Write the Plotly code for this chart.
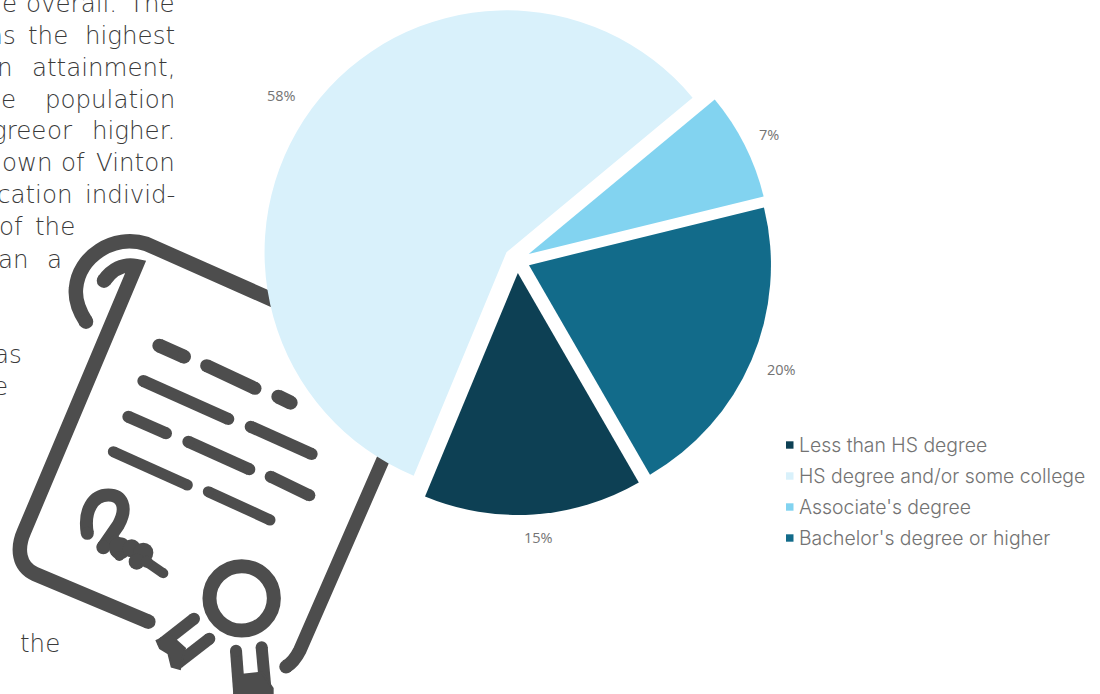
import plotly.graph_objects as go

W, H = 1100, 694

# Educational attainment shares
categories = ["Less than HS degree", "HS degree and/or some college",
              "Associate's degree", "Bachelor's degree or higher"]
shares = [14.6, 57.7, 7.2, 20.5]
slice_colors = ["#0d4054", "#d9f1fb", "#82d3f0", "#126b8a"]
share_label_centres = [(538, 537), (281, 96), (769, 135), (781, 369)]

# Body copy beside the chart: word, right edge, baseline
body_words = [
    ("e", 17, 12), ("overall.", 117, 12), ("The", 175, 12),
    ("as", 16, 44), ("the", 68, 44), ("highest", 175, 44),
    ("n", 13, 76), ("attainment,", 175, 76),
    ("e", 16, 108), ("population", 175, 108),
    ("gree", 46, 139), ("or", 73, 139), ("higher.", 175, 139),
    ("own", 53, 171), ("of", 85, 171), ("Vinton", 175, 171),
    ("cation", 72, 203), ("individ-", 175, 203),
    ("of", 23, 235), ("the", 75, 235),
    ("an", 29, 268), ("a", 62, 268),
    ("as", 22, 363), ("e", 8, 395), ("the", 60, 652),
]
BODY_FONT = dict(family="'DejaVu Sans', sans-serif", size=24.5, color="#3a3a3a", weight=200)
LEGEND_FONT = dict(family="Inter, 'DejaVu Sans', sans-serif", size=19.4, color="#737373", weight=300)
LABEL_FONT = dict(family="Open Sans, sans-serif", size=14.5, color="#737373")
ICON = "#4d4d4d"


def px(x, y):
    return x / W, 1 - y / H


def zoomed(x, y):
    # icon outlines are noted on a 3x grid anchored at y=220
    return x / 3, 220 + y / 3


def path_of(cmds):
    out = []
    for cmd, pts in cmds:
        coords = " ".join("%.5f,%.5f" % px(*zoomed(*p)) for p in pts)
        out.append(cmd + coords)
    return " ".join(out)


shapes = []


def dot(x, y, r):
    cx, cy = zoomed(x, y)
    x0, y0 = px(cx - r, cy - r)
    x1, y1 = px(cx + r, cy + r)
    shapes.append(dict(type="circle", xref="paper", yref="paper", x0=x0, y0=y0, x1=x1, y1=y1,
                       fillcolor=ICON, line=dict(width=0), layer="below"))


def stroke(cmds, width, caps=True):
    shapes.append(dict(type="path", xref="paper", yref="paper", path=path_of(cmds),
                       line=dict(color=ICON, width=width), fillcolor="rgba(0,0,0,0)", layer="below"))
    if caps:
        dot(*cmds[0][1][0], width / 2)
        dot(*cmds[-1][1][-1], width / 2)


def blob(points):
    d = path_of([("M", [points[0]])] + [("L", [p]) for p in points[1:]]) + " Z"
    shapes.append(dict(type="path", xref="paper", yref="paper", path=d, fillcolor=ICON,
                       line=dict(color=ICON, width=2), layer="below"))


# Scroll outline
stroke([("M", [(258, 305)]), ("C", [(235, 270), (225, 235), (228, 205)]),
        ("C", [(235, 110), (340, 40), (440, 72)]), ("L", [(920, 285)])], 14.5)
stroke([("M", [(312, 182)]), ("C", [(335, 150), (370, 130), (408, 138)]), ("L", [(72, 935)]),
        ("C", [(50, 985), (55, 1040), (105, 1062)]), ("L", [(445, 1205)])], 14.5)
stroke([("M", [(1190, 625)]), ("L", [(900, 1290)]), ("C", [(890, 1310), (875, 1330), (858, 1340)])], 13.5)

# Lines of writing on the scroll
for a, b, w in [((478, 377), (552, 410), 14), ((620, 437), (765, 505), 13), ((835, 530), (872, 548), 14),
                ((430, 483), (685, 597), 12), ((752, 620), (935, 702), 12), ((385, 590), (498, 640), 12),
                ((565, 665), (748, 748), 12), ((812, 770), (928, 826), 12), ((340, 695), (562, 795), 11),
                ((625, 815), (810, 900), 11)]:
    stroke([("M", [a]), ("L", [b])], w)

# Signature
stroke([("M", [(262, 940)]), ("C", [(250, 870), (280, 825), (325, 825)]),
        ("C", [(365, 825), (385, 860), (355, 915)]), ("L", [(310, 980)])], 13)
stroke([("M", [(345, 960)]), ("L", [(490, 1060)])], 10)
for x, y, r in [(310, 982, 7), (360, 985, 11), (395, 985, 9), (430, 998, 10), (410, 1025, 8),
                (358, 1008, 5), (440, 1025, 6)]:
    dot(x, y, r)

# Seal and its ribbons
cx, cy = zoomed(725, 1135)
x0, y0 = px(cx - 32.2, cy - 32.2)
x1, y1 = px(cx + 32.2, cy + 32.2)
shapes.append(dict(type="circle", xref="paper", yref="paper", x0=x0, y0=y0, x1=x1, y1=y1,
                   line=dict(color=ICON, width=14), fillcolor="rgba(0,0,0,0)", layer="below"))
stroke([("M", [(582, 1196)]), ("L", [(490, 1268)])], 12)
stroke([("M", [(628, 1256)]), ("L", [(535, 1328)])], 12)
blob([(470, 1262), (510, 1245), (555, 1285), (540, 1347), (515, 1340), (505, 1300), (480, 1285)])
stroke([("M", [(708, 1292)]), ("L", [(718, 1425)])], 12)
stroke([("M", [(785, 1282)]), ("L", [(798, 1425)])], 12)
blob([(720, 1365), (785, 1358), (818, 1405), (818, 1430), (700, 1430)])

annotations = []
for word, right, base in body_words:
    ax, ay = px(right + 1, base - 8.5)
    annotations.append(dict(text=word, x=ax, y=ay, xref="paper", yref="paper", xanchor="right",
                            yanchor="middle", showarrow=False, font=BODY_FONT, borderpad=0))

# Percentage labels outside the slices
total = sum(shares)
for value, (lx, ly) in zip(shares, share_label_centres):
    ax, ay = px(lx, ly)
    annotations.append(dict(text="%d%%" % round(100 * value / total), x=ax, y=ay, xref="paper", yref="paper",
                            xanchor="center", yanchor="middle", showarrow=False, font=LABEL_FONT, borderpad=0))

# Legend drawn as a swatch and label per category
LEGEND_TOP, LEGEND_STEP = 445, 31
for i, (name, colour) in enumerate(zip(categories, slice_colors)):
    yc = LEGEND_TOP + i * LEGEND_STEP
    x0, y0 = px(786, yc - 3.7)
    x1, y1 = px(793.5, yc + 3.7)
    shapes.append(dict(type="rect", xref="paper", yref="paper", x0=x0, y0=y0, x1=x1, y1=y1,
                       fillcolor=colour, line=dict(width=0), layer="above"))
    ax, ay = px(797.5, yc)
    annotations.append(dict(text=name, x=ax, y=ay, xref="paper", yref="paper", xanchor="left",
                            yanchor="middle", showarrow=False, font=LEGEND_FONT, borderpad=0))

fig = go.Figure(go.Pie(
    labels=categories, values=shares, sort=False, direction="clockwise", rotation=150,
    pull=0.054, marker=dict(colors=slice_colors, line=dict(width=0)),
    textinfo="none",
    domain=dict(x=[262 / W, 772 / W], y=[1 - 515 / H, 1 - 5 / H]),
    showlegend=False, automargin=False,
))
fig.update_layout(width=W, height=H, margin=dict(l=0, r=0, t=0, b=0), paper_bgcolor="white",
                  plot_bgcolor="white", shapes=shapes, annotations=annotations)
fig.write_html("out.html")
